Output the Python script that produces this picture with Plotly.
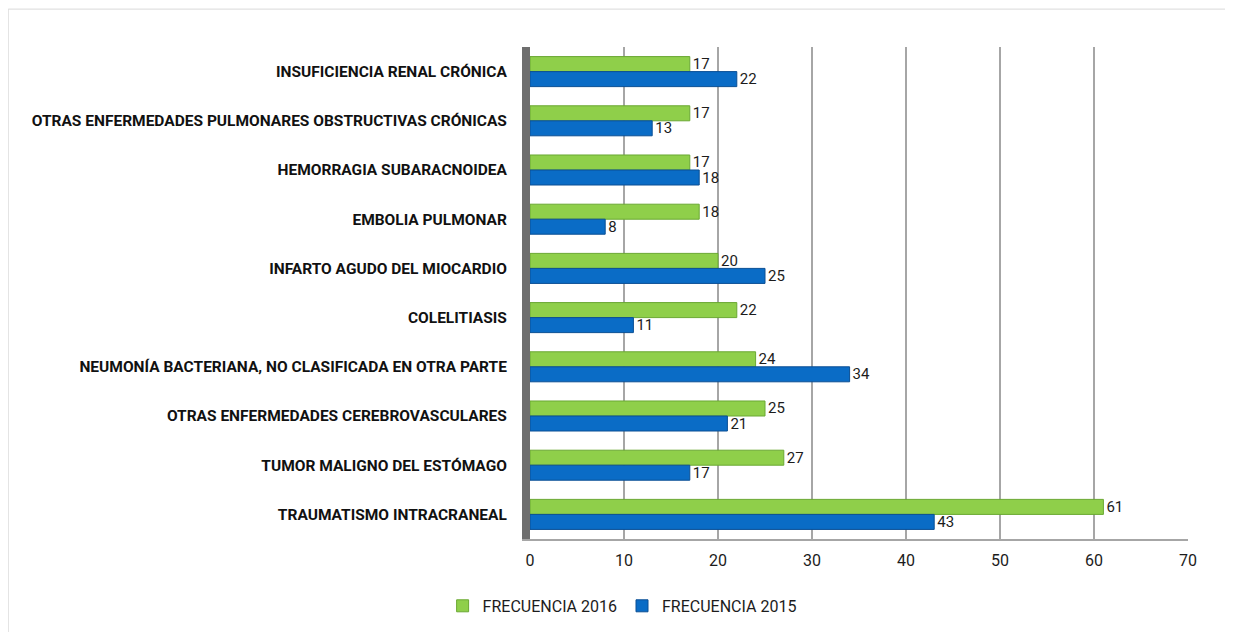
import plotly.graph_objects as go

GREEN = "#8fcf4a"
BLUE = "#0a6cc6"
GRID = "#a6a6a6"

categories = [
    "INSUFICIENCIA RENAL CRÓNICA",
    "OTRAS ENFERMEDADES PULMONARES OBSTRUCTIVAS CRÓNICAS",
    "HEMORRAGIA SUBARACNOIDEA",
    "EMBOLIA PULMONAR",
    "INFARTO AGUDO DEL MIOCARDIO",
    "COLELITIASIS",
    "NEUMONÍA BACTERIANA, NO CLASIFICADA EN OTRA PARTE",
    "OTRAS ENFERMEDADES CEREBROVASCULARES",
    "TUMOR MALIGNO DEL ESTÓMAGO",
    "TRAUMATISMO INTRACRANEAL",
]
freq_2016 = [17, 17, 17, 18, 20, 22, 24, 25, 27, 61]
freq_2015 = [22, 13, 18, 8, 25, 11, 34, 21, 17, 43]
x_ticks = [0, 10, 20, 30, 40, 50, 60, 70]

FONT = "Roboto, Arial, sans-serif"

fig = go.Figure()
for name, vals, col, edge in [("FRECUENCIA 2016", freq_2016, GREEN, "#6aa832"),
                              ("FRECUENCIA 2015", freq_2015, BLUE, "#0a4f94")]:
    fig.add_bar(
        name=name, y=categories, x=vals, orientation="h",
        marker=dict(color=col, line=dict(color=edge, width=1)),
        text=vals, textposition="outside", cliponaxis=False, constraintext="none",
        textfont=dict(size=15, color="#1c1c1c", family=FONT),
    )

# page has an 8px body margin, so margins are shifted by that
fig.update_layout(
    width=1233, height=632,
    barmode="group", bargap=0.39, bargroupgap=0,
    paper_bgcolor="white", plot_bgcolor="white",
    font=dict(family=FONT, size=14, color="#1c1c1c"),
    margin=dict(l=522, r=53, t=39, b=101),
    legend=dict(orientation="h", x=0.14, xanchor="center", y=-0.136, yanchor="middle",
                font=dict(size=16, color="#1c1c1c"), traceorder="normal"),
    # outer frame of the chart
    shapes=[dict(type="rect", xref="paper", yref="paper", x0=-0.793, x1=1.064, y0=-0.193, y1=1.077,
                 line=dict(color="#d9d9d9", width=1), layer="below")],
)
fig.update_xaxes(range=[0, 70], tickvals=x_ticks, showgrid=True, gridcolor=GRID, gridwidth=1.5,
                 zeroline=False, showline=True, linecolor=GRID, linewidth=1.5,
                 tickfont=dict(size=16, color="#1c1c1c"), ticks="", ticklabelstandoff=6)
fig.update_yaxes(autorange="reversed", showgrid=False, showline=True, linecolor="#6e6e6e",
                 linewidth=8, ticks="", ticklabelstandoff=12,
                 tickfont=dict(size=15.5, color="#111111", weight="bold"))

fig.write_html("out.html")
